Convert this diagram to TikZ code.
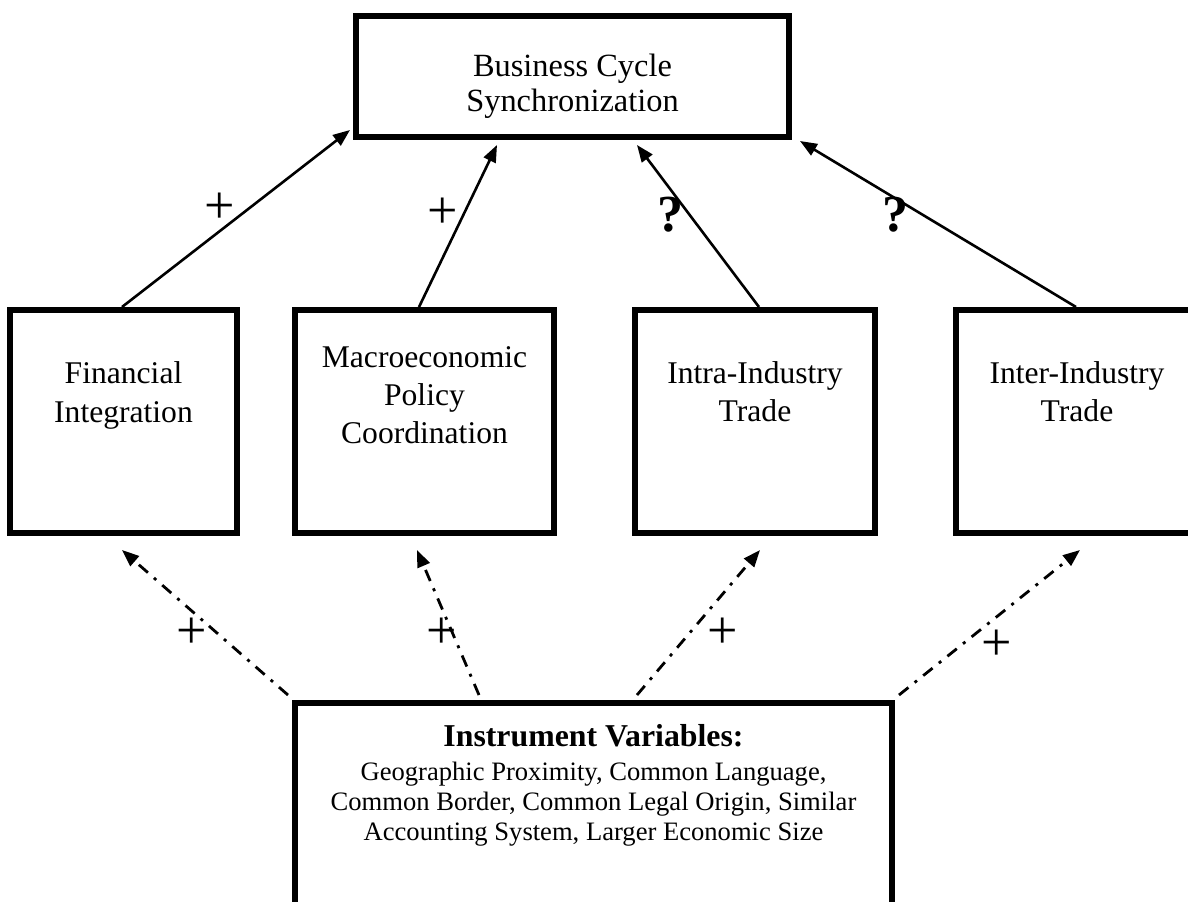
\documentclass[tikz,border=0pt]{standalone}
\usepackage{fontspec}
\setmainfont{Liberation Serif}
\usetikzlibrary{arrows.meta,calc}
\begin{document}
\begin{tikzpicture}[x=0.5pt,y=-0.5pt,
  box/.style={draw,line width=3.2pt,rectangle,inner sep=0pt},
  txt/.style={anchor=base,inner sep=0pt,font=\fontsize{15.8}{19}\selectfont},
  toptxt/.style={anchor=base,inner sep=0pt,font=\fontsize{16.2}{19}\selectfont},
  smalltxt/.style={anchor=base,inner sep=0pt,font=\fontsize{13.3}{15}\selectfont},
  solidarrow/.style={line width=1.3pt,-{Triangle[length=8.5pt,width=6.5pt]}},
  dasharrow/.style={line width=1.4pt,dash pattern=on 6pt off 4pt on 1.5pt off 4pt,-{Triangle[length=8.5pt,width=6.5pt]}},
  plus/.style={font=\fontsize{27}{27}\selectfont,inner sep=0pt},
  qmark/.style={font=\fontsize{26}{26}\selectfont\bfseries,inner sep=0pt}]
\clip (0,0) rectangle (1188,901);
\fill[white] (0,0) rectangle (1188,901);
% boxes
\node[box,minimum width=216.3pt,minimum height=60.3pt] (top) at (572.5,76.5) {};
\node[box,minimum width=113.3pt,minimum height=111.3pt] (fin) at (123.5,421.5) {};
\node[box,minimum width=129.3pt,minimum height=111.3pt] (mac) at (424.5,421.5) {};
\node[box,minimum width=119.8pt,minimum height=111.3pt] (intra) at (755,421.5) {};
\node[box,minimum width=120.8pt,minimum height=111.3pt] (inter) at (1077,421.5) {};
\node[box,minimum width=298.3pt,minimum height=123.4pt] (bot) at (593.5,826.6) {};
% texts
\node[toptxt] (top1) at (572.5,76) {Business Cycle};
\node[toptxt] (top2) at (572.5,111) {Synchronization};
\node[txt] (fin1) at (123.5,383) {Financial};
\node[txt] (fin2) at (123.5,422) {Integration};
\node[txt] (mac1) at (424.5,367) {Macroeconomic};
\node[txt] (mac2) at (424.5,405) {Policy};
\node[txt] (mac3) at (424.5,443) {Coordination};
\node[txt] (intra1) at (755,383) {Intra-Industry};
\node[txt] (intra2) at (755,421) {Trade};
\node[txt] (inter1) at (1077,383) {Inter-Industry};
\node[txt] (inter2) at (1077,421) {Trade};
\node[txt,font=\fontsize{15.9}{19}\selectfont\bfseries] (bot1) at (593.5,746) {Instrument Variables:};
\node[smalltxt] (bot2) at (593.5,780) {Geographic Proximity, Common Language,};
\node[smalltxt] (bot3) at (593.5,810) {Common Border, Common Legal Origin, Similar};
\node[smalltxt] (bot4) at (593.5,840) {Accounting System, Larger Economic Size};
% solid arrows
\draw[solidarrow] ($(fin.north)+(-1.5,0)$) -- ($(top.south west)+(-3,-10)$);
\draw[solidarrow] ($(mac.north)+(-5.5,0)$) -- ($(top.south)+(-75.5,5)$);
\draw[solidarrow] ($(intra.north)+(4,0)$) -- ($(top.south)+(64.5,5)$);
\draw[solidarrow] ($(inter.north)+(-1,0)$) -- ($(top.south east)+(8,1)$);
% dash-dot arrows
\draw[dasharrow] ($(bot.north west)+(-4,-5)$) -- ($(fin.south)+(-1.5,14)$);
\draw[dasharrow] ($(bot.north west)+(187,-5)$) -- ($(mac.south)+(-7.5,14)$);
\draw[dasharrow] ($(bot.north)+(43.5,-5)$) -- ($(intra.south)+(5,14)$);
\draw[dasharrow] ($(bot.north east)+(4,-5)$) -- ($(inter.south)+(3,14)$);
% labels
\node[plus] (l1) at (220,208) {+};
\node[plus] (l2) at (443,213) {+};
\node[qmark] (l3) at (670,215) {?};
\node[qmark] (l4) at (895,215) {?};
\node[plus] (l5) at (192,633) {+};
\node[plus] (l6) at (442,633) {+};
\node[plus] (l7) at (723,633) {+};
\node[plus] (l8) at (997,645) {+};
\end{tikzpicture}
\end{document}
